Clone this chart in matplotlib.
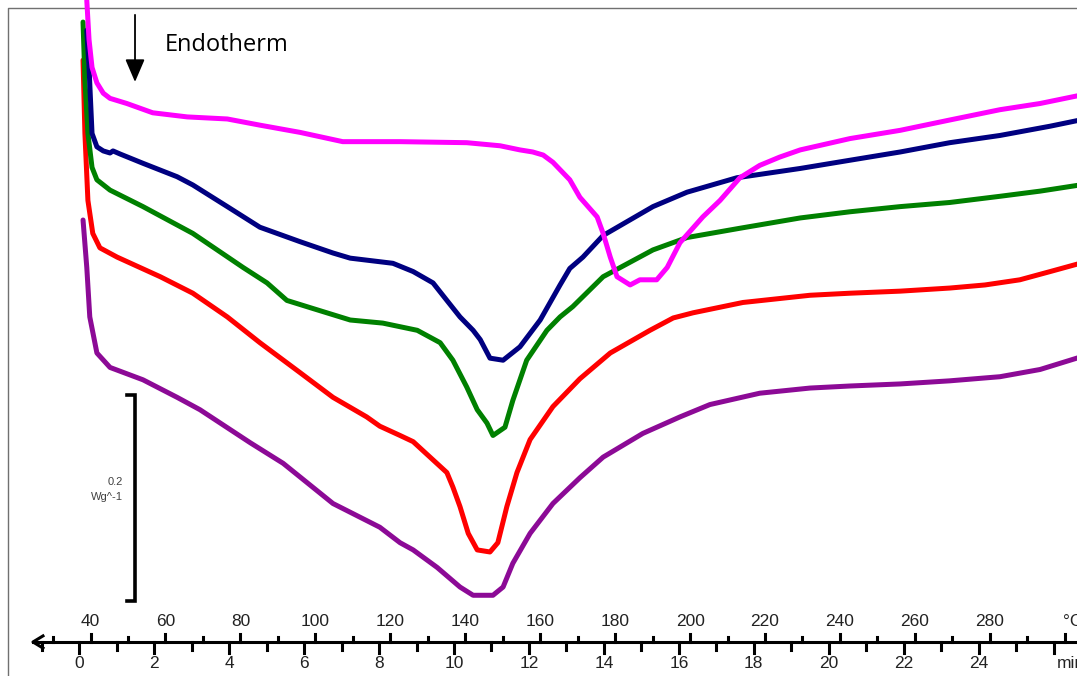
import matplotlib.pyplot as plt
from matplotlib.transforms import blended_transform_factory

plt.rcParams['font.family'] = ['Liberation Sans', 'DejaVu Sans']

# DSC traces: time (min) vs heat flow (mW/g, stacked offsets), endotherm down
magenta_t = [0.20, 0.26, 0.34, 0.47, 0.64, 0.82, 1.27, 1.96, 2.88, 3.95,
             4.82, 5.89, 7.03, 8.56, 10.34, 11.23, 11.76, 12.10, 12.38, 12.64,
             13.09, 13.36, 13.82, 13.98, 14.17, 14.35, 14.70, 14.96, 15.41, 15.69,
             16.03, 16.64, 17.10, 17.63, 18.16, 18.69, 19.24, 20.57, 21.91, 23.23,
             24.57, 25.64, 26.71]
magenta_hf = [601, 563, 536, 521, 511, 506, 501, 492, 488, 486,
              480, 473, 464, 464, 463, 460, 456, 454, 451, 444,
              427, 410, 391, 375, 352, 333, 325, 330, 330, 342,
              366, 391, 407, 429, 441, 449, 456, 467, 475, 485,
              495, 501, 509]

blue_t = [0.20, 0.26, 0.34, 0.47, 0.64, 0.82, 0.90, 1.09, 1.70, 2.61,
          3.03, 3.95, 4.82, 5.89, 6.77, 7.23, 8.37, 8.91, 9.44, 9.81,
          10.16, 10.51, 10.70, 10.96, 11.31, 11.76, 12.30, 12.83, 13.09, 13.44,
          13.98, 15.31, 16.22, 17.55, 19.24, 20.57, 21.91, 23.23, 24.57, 25.91,
          26.71]
blue_hf = [572, 536, 472, 459, 455, 453, 455, 452, 443, 430,
           422, 401, 381, 367, 356, 351, 346, 338, 327, 310,
           294, 281, 272, 254, 252, 265, 291, 325, 341, 352,
           373, 401, 415, 429, 438, 446, 454, 463, 470, 479,
           485]

green_t = [0.10, 0.15, 0.23, 0.34, 0.47, 0.82, 1.70, 3.03, 4.37, 5.01,
           5.54, 6.16, 7.23, 8.10, 9.02, 9.63, 9.97, 10.34, 10.62, 10.88,
           11.04, 11.36, 11.57, 11.94, 12.48, 12.83, 13.17, 13.98, 15.31, 16.22,
           17.63, 19.24, 20.57, 21.91, 23.23, 24.57, 25.64, 26.71]
green_hf = [580, 524, 472, 439, 427, 417, 401, 375, 342, 327,
            310, 303, 291, 288, 281, 269, 252, 226, 204, 191,
            179, 187, 213, 252, 281, 294, 304, 333, 359, 371,
            380, 390, 396, 401, 405, 411, 416, 422]

red_t = [0.10, 0.15, 0.23, 0.36, 0.55, 1.01, 2.16, 3.03, 3.95, 4.82,
         5.89, 6.77, 7.67, 8.02, 8.56, 8.91, 9.36, 9.81, 9.97, 10.16,
         10.38, 10.62, 10.96, 11.17, 11.41, 11.68, 12.03, 12.64, 13.36, 14.17,
         15.23, 15.85, 16.38, 17.71, 19.50, 20.57, 21.91, 23.23, 24.17, 25.10,
         25.91, 26.71]
red_hf = [543, 472, 407, 375, 361, 352, 333, 317, 294, 269,
          240, 216, 197, 188, 179, 173, 158, 143, 129, 110,
          84, 68, 66, 75, 110, 143, 175, 207, 234, 259,
          281, 293, 298, 308, 315, 317, 319, 322, 325, 330,
          338, 346]

purple_t = [0.10, 0.20, 0.28, 0.47, 0.82, 1.70, 2.61, 3.22, 4.56, 5.44,
            6.77, 8.02, 8.56, 8.91, 9.55, 10.16, 10.51, 11.04, 11.31, 11.57,
            12.03, 12.64, 13.36, 13.98, 15.04, 16.03, 16.83, 18.16, 19.50, 20.57,
            21.91, 23.23, 24.57, 25.64, 26.71]
purple_hf = [388, 342, 294, 259, 245, 233, 216, 204, 172, 152,
             113, 90, 75, 68, 51, 32, 24, 24, 32, 55,
             84, 113, 138, 158, 181, 197, 209, 220, 225, 227,
             229, 232, 236, 243, 255]

time_labels = list(range(0, 25, 2))
temp_labels = list(range(40, 281, 20))
heating_rate = 10.0   # degC per min
start_temp = 37.0     # degC at t = 0

fig = plt.figure(figsize=(10.77, 6.76), dpi=100)
ax = fig.add_axes([0, 0, 1, 1])
ax.set_xlim(-2.116, 26.626)
ax.set_ylim(-54.3, 601.4)
ax.axis('off')

# thin grey frame
ax.plot([0.0074, 0.0074, 1.0], [0.0, 0.988, 0.988], transform=ax.transAxes,
        color='#707070', lw=1.0, zorder=0)

traces = [
    (purple_t, purple_hf, '#8c0a96'),
    (red_t, red_hf, '#ff0000'),
    (green_t, green_hf, '#008000'),
    (blue_t, blue_hf, '#000080'),
    (magenta_t, magenta_hf, '#ff00ff'),
]
for t, hf, col in traces:
    ax.plot(t, hf, color=col, lw=3.6, solid_capstyle='round',
            solid_joinstyle='round', zorder=3)

# endotherm arrow
ax.annotate('', xy=(1.487, 521.9), xytext=(1.487, 587),
            arrowprops=dict(arrowstyle='-|>,head_length=0.7,head_width=0.3',
                            mutation_scale=20, lw=1.3, color='black',
                            shrinkA=0, shrinkB=0))
ax.text(2.287, 557.8, 'Endotherm', fontsize=17, family='Open Sans',
        ha='left', va='center', color='black')

# 0.2 W/g scale bar
ax.plot([1.28, 1.487, 1.487, 1.28], [18, 18, 218, 218], color='black',
        lw=2.6, solid_joinstyle='miter')
ax.text(1.17, 134, '0.2', fontsize=8, ha='right', va='center', color='#404040')
ax.text(1.17, 119, 'Wg^-1', fontsize=8, ha='right', va='center', color='#404040')

# dual bottom axis: temperature above, time below
tr = blended_transform_factory(ax.transData, ax.transAxes)
axis_y = 0.0503
ax.plot([-1.236, 27], [axis_y, axis_y], transform=tr, color='black', lw=2.2,
        clip_on=False)
ax.plot([-0.969, -1.236, -0.969], [axis_y + 0.009, axis_y, axis_y - 0.009],
        transform=tr, color='black', lw=2.2)

for m in range(-1, 27):
    low = 0.0340 if m % 2 == 0 else 0.0385
    ax.plot([m, m], [axis_y, low], transform=tr, color='black', lw=2.2)
for T in range(30, 301, 10):
    pos = (T - start_temp) / heating_rate
    high = 0.0621 if T % 20 == 0 else 0.0577
    ax.plot([pos, pos], [axis_y, high], transform=tr, color='black', lw=2.2)

for m in time_labels:
    ax.text(m, 0.0192, str(m), transform=tr, fontsize=12.5, ha='center',
            va='center', color='#222222')
for T in temp_labels:
    ax.text((T - start_temp) / heating_rate, 0.0799, str(T), transform=tr,
            fontsize=12.5, ha='center', va='center', color='#222222')
ax.text(26.09, 0.0192, 'min', transform=tr, fontsize=12.5, ha='left',
        va='center', color='#222222')
ax.text(26.25, 0.0799, '°C', transform=tr, fontsize=12.5, ha='left',
        va='center', color='#222222')

fig.savefig('out.png', dpi=100)
